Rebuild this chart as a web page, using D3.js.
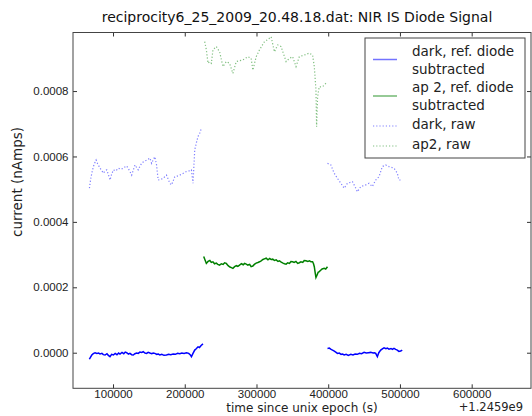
<!DOCTYPE html>
<html>
<head>
<meta charset="utf-8">
<script src="https://cdn.jsdelivr.net/npm/d3@7"></script>
<style>
  body { margin: 0; background: #fff; }
  svg { font-family: 'DejaVu Sans', sans-serif; }
</style>
</head>
<body>
<div id="chart"></div>
<script>
// Diode signal traces: [time since epoch offset (s), current (nAmps)]
var darkSub1 = [
  [67000, -0.000020], [68500, -0.000014], [70400, -0.000007], [72500, -0.000003], [75000, 0.000000],
  [77500, -0.000002], [80000, -0.000001], [81900, -0.000004], [84500, -0.000002], [86500, -0.000006],
  [88900, -0.000007], [91500, -0.000003], [93500, -0.000008], [95800, -0.000012], [98000, -0.000005],
  [100500, -0.000007], [103000, -0.000002], [105500, -0.000006], [107800, -0.000001], [109700, -0.000004],
  [112500, 0.000001], [115000, -0.000003], [117000, 0.000002], [119000, 0.000000], [121500, -0.000004],
  [123600, -0.000002], [126000, -0.000006], [128200, -0.000007], [130500, -0.000003], [133000, -0.000001],
  [135100, -0.000002], [137500, 0.000002], [140000, 0.000001], [142100, 0.000003], [144500, -0.000001],
  [146800, -0.000002], [149000, 0.000001], [151400, -0.000001], [154000, -0.000003], [156000, -0.000001],
  [158300, -0.000002], [161000, -0.000005], [163300, -0.000004], [165300, -0.000007], [168000, -0.000005],
  [171000, -0.000008], [174500, -0.000007], [177500, -0.000005], [180500, -0.000006], [183800, -0.000004],
  [187000, -0.000005], [190000, -0.000002], [193100, -0.000003], [196000, -0.000001], [199000, -0.000002],
  [202400, 0.000000], [205500, -0.000002], [207500, -0.000006], [209300, -0.000012], [211500, -0.000002],
  [213900, 0.000008], [216000, 0.000012], [218500, 0.000018], [220500, 0.000016], [222800, 0.000022],
  [225400, 0.000027]
]
var darkSub2 = [
  [399000, 0.000013], [401500, 0.000014], [404000, 0.000010], [406000, 0.000008], [408500, 0.000005],
  [410500, 0.000002], [412900, -0.000002], [415500, -0.000001], [418000, -0.000005], [420000, -0.000004],
  [422200, -0.000007], [425000, -0.000005], [428000, -0.000008], [431500, -0.000005], [434500, -0.000007],
  [437500, -0.000004], [440700, -0.000005], [443500, -0.000002], [446500, -0.000003], [450000, 0.000001],
  [453000, -0.000001], [456000, 0.000000], [459300, 0.000001], [462500, -0.000001], [464500, 0.000000],
  [466200, -0.000002], [468500, -0.000012], [470500, 0.000000], [473200, 0.000008], [475500, 0.000012],
  [477800, 0.000015], [480500, 0.000012], [482500, 0.000014], [484700, 0.000011], [487500, 0.000013],
  [489500, 0.000010], [491700, 0.000013], [494000, 0.000010], [496300, 0.000008], [498500, 0.000004],
  [501000, 0.000005], [503200, 0.000008]
]
var ap2Sub = [
  [226400, 0.000294], [228000, 0.000285], [230100, 0.000273], [232500, 0.000279], [235000, 0.000282],
  [237000, 0.000276], [239300, 0.000278], [241500, 0.000272], [244000, 0.000274], [246000, 0.000270],
  [248600, 0.000268], [251000, 0.000272], [253500, 0.000270], [255500, 0.000275], [257900, 0.000273],
  [260500, 0.000266], [263000, 0.000262], [265000, 0.000260], [267100, 0.000258], [269500, 0.000263],
  [272000, 0.000266], [274000, 0.000264], [276400, 0.000268], [279000, 0.000272], [281500, 0.000269],
  [283500, 0.000273], [285700, 0.000271], [288000, 0.000268], [290500, 0.000270], [292500, 0.000263],
  [294900, 0.000265], [297000, 0.000270], [299500, 0.000274], [302000, 0.000276], [304200, 0.000278],
  [306500, 0.000281], [309000, 0.000285], [311000, 0.000287], [313500, 0.000289], [316000, 0.000284],
  [318500, 0.000288], [320500, 0.000285], [322700, 0.000286], [325000, 0.000282], [327500, 0.000284],
  [330000, 0.000279], [332000, 0.000281], [334500, 0.000277], [337000, 0.000274], [339000, 0.000272],
  [341300, 0.000271], [343500, 0.000275], [346000, 0.000273], [348000, 0.000279], [350400, 0.000278],
  [352500, 0.000276], [355000, 0.000279], [357500, 0.000273], [359700, 0.000275], [362000, 0.000278],
  [364500, 0.000276], [366500, 0.000282], [369000, 0.000281], [371500, 0.000279], [374000, 0.000281],
  [376000, 0.000278], [378200, 0.000278], [379500, 0.000272], [380600, 0.000263], [381800, 0.000245],
  [382900, 0.000230], [384500, 0.000238], [386000, 0.000246], [387500, 0.000248], [389500, 0.000252],
  [391500, 0.000256], [394400, 0.000258], [396500, 0.000256], [399000, 0.000263]
]
var darkRaw1 = [
  [67100, 0.000503], [69000, 0.000533], [70800, 0.000552], [72600, 0.000569], [74500, 0.000580],
  [76400, 0.000589], [78500, 0.000578], [81900, 0.000564], [84000, 0.000558], [86500, 0.000549],
  [89000, 0.000556], [91200, 0.000559], [93500, 0.000545], [95800, 0.000528], [98000, 0.000545],
  [100500, 0.000559], [104000, 0.000556], [107400, 0.000564], [111000, 0.000561], [114300, 0.000564],
  [116500, 0.000568], [119000, 0.000571], [121500, 0.000562], [123600, 0.000554], [126000, 0.000543],
  [128500, 0.000560], [130600, 0.000574], [133000, 0.000566], [135100, 0.000559], [137500, 0.000570],
  [139900, 0.000579], [142000, 0.000583], [144400, 0.000586], [148000, 0.000590], [151400, 0.000595],
  [153800, 0.000579], [156000, 0.000590], [158300, 0.000599], [160700, 0.000574], [162900, 0.000528],
  [166500, 0.000530], [169900, 0.000533], [172000, 0.000538], [174500, 0.000543], [177000, 0.000530],
  [179200, 0.000518], [181500, 0.000513], [184000, 0.000526], [186100, 0.000538], [189500, 0.000540],
  [193100, 0.000543], [197500, 0.000548], [202400, 0.000554], [206000, 0.000556], [209300, 0.000559],
  [211500, 0.000518], [213900, 0.000620], [216000, 0.000640], [218500, 0.000661], [221000, 0.000672],
  [223200, 0.000686]
]
var darkRaw2 = [
  [399000, 0.000579], [403700, 0.000574], [408300, 0.000549], [412900, 0.000533], [417600, 0.000518],
  [422200, 0.000503], [426800, 0.000518], [433800, 0.000523], [438500, 0.000503], [440700, 0.000492],
  [445400, 0.000508], [452300, 0.000513], [456900, 0.000518], [461500, 0.000508], [466200, 0.000528],
  [470800, 0.000538], [475400, 0.000569], [480100, 0.000574], [484700, 0.000569], [491700, 0.000564],
  [496300, 0.000549], [498600, 0.000528], [503200, 0.000528]
]
var ap2Raw = [
  [227800, 0.000951], [230100, 0.000926], [232400, 0.000885], [234800, 0.000890], [237100, 0.000885],
  [239300, 0.000926], [244000, 0.000936], [248600, 0.000920], [253200, 0.000875], [257900, 0.000890],
  [262500, 0.000885], [267100, 0.000854], [271800, 0.000890], [276500, 0.000893], [281000, 0.000895],
  [288000, 0.000905], [292600, 0.000900], [294900, 0.000864], [299600, 0.000905], [304200, 0.000926],
  [311100, 0.000951], [316000, 0.000958], [320400, 0.000966], [325000, 0.000920], [329600, 0.000941],
  [334300, 0.000936], [341300, 0.000890], [345800, 0.000900], [350400, 0.000905], [355100, 0.000875],
  [359700, 0.000905], [366700, 0.000910], [373600, 0.000916], [378200, 0.000910], [380600, 0.000875],
  [382900, 0.000803], [383800, 0.000691], [385200, 0.000783], [387500, 0.000813], [392100, 0.000813],
  [396800, 0.000824]
]

var xTicks = [100000, 200000, 300000, 400000, 500000, 600000]
var yTicks = [0, 0.0002, 0.0004, 0.0006, 0.0008]
var legendLabels = [['dark, ref. diode', 'subtracted'], ['ap 2, ref. diode', 'subtracted'], ['dark, raw'], ['ap2, raw']]

var width = 532
var height = 416
var plot = { left: 73, right: 531, top: 32.5, bottom: 388.3 }

var svg = d3.select('#chart').append('svg')
  .attr('width', width)
  .attr('height', height)

var x = d3.scaleLinear().domain([44200, 682700]).range([plot.left, plot.right])
var y = d3.scaleLinear().domain([-0.0001088, 0.000979]).range([plot.bottom, plot.top])

svg.append('clipPath').attr('id', 'clip')
  .append('rect')
  .attr('x', plot.left).attr('y', plot.top)
  .attr('width', plot.right - plot.left).attr('height', plot.bottom - plot.top)

var line = d3.line().x(d => x(d[0])).y(d => y(d[1]))

var series = [
  { data: [darkSub1, darkSub2], color: '#0000ff', width: 1.5, dash: null, opacity: 1 },
  { data: [ap2Sub], color: '#008000', width: 1.5, dash: null, opacity: 1 },
  { data: [darkRaw1, darkRaw2], color: '#0000ff', width: 1.2, dash: '1.2,2', opacity: 0.5 },
  { data: [ap2Raw], color: '#008000', width: 1.2, dash: '1.2,2', opacity: 0.5 }
]

var lines = svg.append('g').attr('clip-path', 'url(#clip)')
series.forEach(s => {
  s.data.forEach(seg => {
    lines.append('path')
      .attr('d', line(seg))
      .attr('fill', 'none')
      .attr('stroke', s.color)
      .attr('stroke-width', s.width)
      .attr('stroke-dasharray', s.dash)
      .attr('stroke-opacity', s.opacity)
  })
})

// Axes, matplotlib style: inward ticks on all four sides
function styleAxis (g) {
  g.select('.domain').remove()
  g.selectAll('.tick line').attr('stroke', '#333')
  g.selectAll('.tick text').attr('fill', '#222').style('font-size', '11.5px')
}

svg.append('g')
  .attr('transform', `translate(0,${plot.bottom})`)
  .call(d3.axisBottom(x).tickValues(xTicks).tickFormat(d3.format('d')).tickSize(-4).tickPadding(2))
  .call(styleAxis)
svg.append('g')
  .attr('transform', `translate(0,${plot.top})`)
  .call(d3.axisTop(x).tickValues(xTicks).tickFormat('').tickSize(-4))
  .call(styleAxis)
svg.append('g')
  .attr('transform', `translate(${plot.left},0)`)
  .call(d3.axisLeft(y).tickValues(yTicks).tickFormat(d3.format('.4f')).tickSize(-4).tickPadding(4.5))
  .call(styleAxis)
svg.append('g')
  .attr('transform', `translate(${plot.right},0)`)
  .call(d3.axisRight(y).tickValues(yTicks).tickFormat('').tickSize(-4))
  .call(styleAxis)

svg.append('rect')
  .attr('x', plot.left).attr('y', plot.top)
  .attr('width', plot.right - plot.left).attr('height', plot.bottom - plot.top)
  .attr('fill', 'none')
  .attr('stroke', '#444')
  .attr('stroke-width', 1)

// Title and labels
svg.append('text')
  .attr('x', 297).attr('y', 22)
  .attr('text-anchor', 'middle')
  .style('font-size', '14px')
  .attr('fill', '#111')
  .text('reciprocity6_25_2009_20.48.18.dat: NIR IS Diode Signal')

svg.append('text')
  .attr('x', 302).attr('y', 412)
  .attr('text-anchor', 'middle')
  .style('font-size', '12px')
  .attr('fill', '#222')
  .text('time since unix epoch (s)')

svg.append('text')
  .attr('x', 523).attr('y', 411)
  .attr('text-anchor', 'end')
  .style('font-size', '11.5px')
  .attr('fill', '#222')
  .text('+1.2459e9')

svg.append('text')
  .attr('transform', 'translate(22,182) rotate(-90)')
  .attr('text-anchor', 'middle')
  .style('font-size', '13.5px')
  .attr('fill', '#222')
  .text('current (nAmps)')

// Legend
var legend = svg.append('g')
legend.append('rect')
  .attr('x', 365).attr('y', 38)
  .attr('width', 160).attr('height', 120)
  .attr('fill', '#fff')
  .attr('stroke', '#444')
  .attr('stroke-width', 1)

var textRows = [[56, 73.5], [91.5, 109.5], [129], [149]]
var handleY = [59.5, 96, 126, 146]
legendLabels.forEach((labels, i) => {
  var s = series[i]
  legend.append('line')
    .attr('x1', 373).attr('x2', 397)
    .attr('y1', handleY[i]).attr('y2', handleY[i])
    .attr('stroke', s.color)
    .attr('stroke-width', s.dash ? s.width : 1.5)
    .attr('stroke-dasharray', s.dash)
    .attr('stroke-opacity', s.dash ? s.opacity : 0.55)
  labels.forEach((t, j) => {
    legend.append('text')
      .attr('x', 412).attr('y', textRows[i][j])
      .style('font-size', '13.5px')
      .attr('fill', '#222')
      .text(t)
  })
})
</script>
</body>
</html>
